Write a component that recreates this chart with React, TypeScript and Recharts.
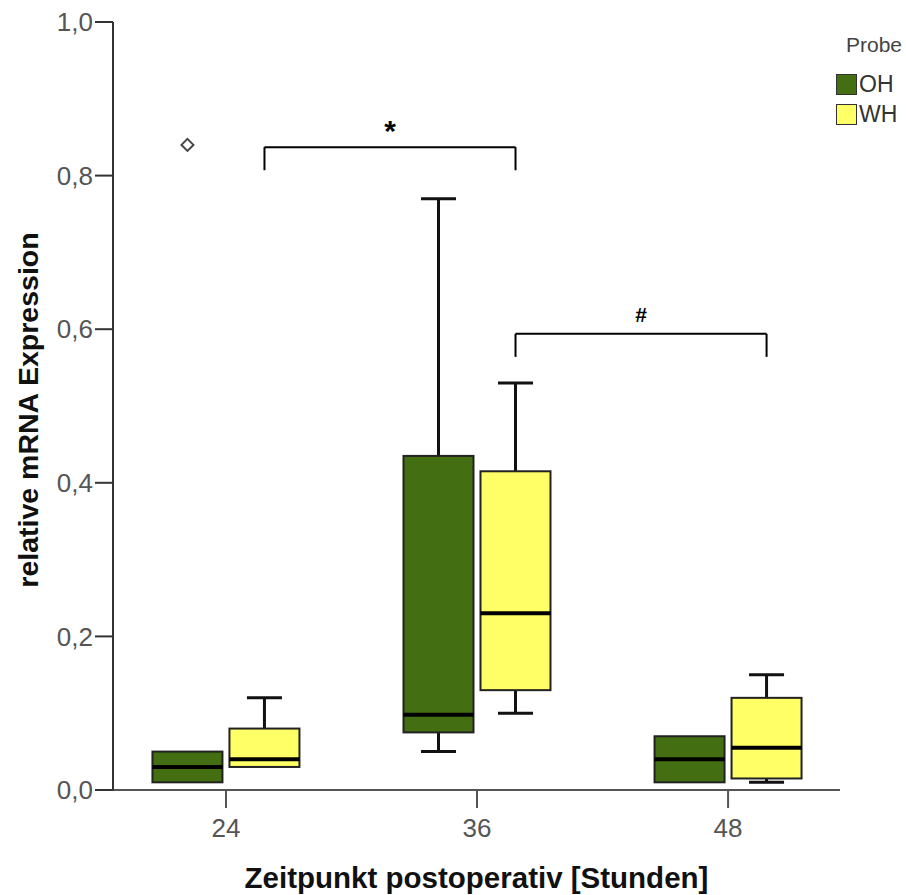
import { ComposedChart, Bar, XAxis, YAxis, ReferenceLine, Legend, Label } from "recharts";

const FONT = "'Liberation Sans', Arial, sans-serif";
const OH_COLOR = "#436f12";
const WH_COLOR = "#ffff66";

// time points (hours post-op)
const HOURS = [24, 36, 48];

// box plot summaries, one value per time point
const OH_MIN = [0.01, 0.05, 0.01];
const OH_Q1 = [0.01, 0.075, 0.01];
const OH_MEDIAN = [0.03, 0.098, 0.04];
const OH_Q3 = [0.05, 0.435, 0.07];
const OH_MAX = [0.05, 0.77, 0.07];
const OH_OUTLIERS = [[0.84], [], []];

const WH_MIN = [0.03, 0.1, 0.01];
const WH_Q1 = [0.03, 0.13, 0.015];
const WH_MEDIAN = [0.04, 0.23, 0.055];
const WH_Q3 = [0.08, 0.415, 0.12];
const WH_MAX = [0.12, 0.53, 0.15];
const WH_OUTLIERS = [[], [], []];

const Y_TICKS = [0, 0.2, 0.4, 0.6, 0.8, 1.0];

// significance brackets (between WH boxes)
const BRACKET_FROM = [24, 36];
const BRACKET_TO = [36, 48];
const BRACKET_Y = [0.837, 0.594];
const BRACKET_LEG = [0.807, 0.564];
const BRACKET_MARK = ["*", "#"];

const CHART_W = 906;
const CHART_H = 895;
const MARGIN = { top: 22, right: 66, bottom: 0, left: 0 };
const Y_AXIS_W = 113;
const PLOT_W = CHART_W - MARGIN.left - MARGIN.right - Y_AXIS_W;
const X_DOMAIN: [number, number] = [18.6, 53.35];
const BAR_SIZE = 70;
const BAR_GAP = 7;
// horizontal shift of the WH box centre from the tick, in hours
const WH_SHIFT = ((BAR_SIZE + BAR_GAP) / 2) * ((X_DOMAIN[1] - X_DOMAIN[0]) / PLOT_W);

const rows = HOURS.map((hour, i) => ({
  hour,
  oh: [OH_MIN[i], OH_MAX[i]],
  wh: [WH_MIN[i], WH_MAX[i]],
  ohStats: { min: OH_MIN[i], q1: OH_Q1[i], median: OH_MEDIAN[i], q3: OH_Q3[i], max: OH_MAX[i], outliers: OH_OUTLIERS[i] },
  whStats: { min: WH_MIN[i], q1: WH_Q1[i], median: WH_MEDIAN[i], q3: WH_Q3[i], max: WH_MAX[i], outliers: WH_OUTLIERS[i] },
}));

function BoxShape(props: any) {
  const { x, y, width, height, fill, stats } = props;
  if (!stats || height == null) return null;
  const top = Math.min(y, y + height);
  const bottom = Math.max(y, y + height);
  const span = stats.max - stats.min || 1;
  const toPx = (v: number) => bottom - ((v - stats.min) / span) * (bottom - top);
  const cx = x + width / 2;
  const cap = width / 4;
  const q1 = toPx(stats.q1);
  const q3 = toPx(stats.q3);
  const med = toPx(stats.median);
  const hi = toPx(stats.max);
  const lo = toPx(stats.min);
  return (
    <g>
      {stats.max > stats.q3 && (
        <g stroke="#111" strokeWidth={3}>
          <line x1={cx} x2={cx} y1={q3} y2={hi} />
          <line x1={cx - cap} x2={cx + cap} y1={hi} y2={hi} />
        </g>
      )}
      {stats.min < stats.q1 && (
        <g stroke="#111" strokeWidth={3}>
          <line x1={cx} x2={cx} y1={q1} y2={lo} />
          <line x1={cx - cap} x2={cx + cap} y1={lo} y2={lo} />
        </g>
      )}
      <rect x={x} y={q3} width={width} height={q1 - q3} fill={fill} stroke="#222" strokeWidth={2} />
      <line x1={x} x2={x + width} y1={med} y2={med} stroke="#000" strokeWidth={4} />
      {stats.outliers.map((v: number, k: number) => {
        const py = toPx(v);
        return (
          <path
            key={k}
            d={`M${cx},${py - 6} L${cx + 6},${py} L${cx},${py + 6} L${cx - 6},${py} Z`}
            fill="#fff"
            stroke="#444"
            strokeWidth={2}
          />
        );
      })}
    </g>
  );
}

function LegendBox({ payload }: any) {
  return (
    <div style={{ fontFamily: FONT }}>
      <div style={{ fontSize: 21, color: "#444", textAlign: "right", marginBottom: 12 }}>Probe</div>
      {(payload || []).map((item: any) => (
        <div key={item.value} style={{ display: "flex", alignItems: "center", height: 30 }}>
          <span
            style={{
              display: "inline-block",
              width: 19,
              height: 19,
              background: item.color,
              border: "1.5px solid #333",
            }}
          />
          <span style={{ fontSize: 23, color: "#333", marginLeft: 2 }}>{item.value}</span>
        </div>
      ))}
    </div>
  );
}

export default function App() {
  return (
    <div style={{ position: "absolute", left: 0, top: 0, width: CHART_W, height: CHART_H, background: "#fff" }}>
      <ComposedChart
        width={CHART_W}
        height={CHART_H}
        data={rows}
        margin={MARGIN}
        barSize={BAR_SIZE}
        barGap={BAR_GAP}
      >
        <XAxis
          type="number"
          dataKey="hour"
          domain={X_DOMAIN}
          ticks={HOURS}
          allowDataOverflow
          height={CHART_H - MARGIN.top - 768 - MARGIN.bottom}
          tickSize={18}
          tickMargin={11}
          tick={{ fontSize: 26, fill: "#555", fontFamily: FONT }}
          tickLine={{ stroke: "#555", strokeWidth: 2 }}
          axisLine={{ stroke: "#555", strokeWidth: 2 }}
        >
          <Label
            value="Zeitpunkt postoperativ [Stunden]"
            position="insideBottom"
            offset={7}
            style={{ fontSize: 29.5, fontWeight: "bold", fill: "#111", fontFamily: FONT }}
          />
        </XAxis>
        <YAxis
          type="number"
          domain={[0, 1]}
          ticks={Y_TICKS}
          width={Y_AXIS_W}
          tickSize={18}
          tickMargin={2}
          tickFormatter={(v: number) => v.toFixed(1).replace(".", ",")}
          tick={{ fontSize: 26, fill: "#555", fontFamily: FONT }}
          tickLine={{ stroke: "#333", strokeWidth: 2 }}
          axisLine={{ stroke: "#333", strokeWidth: 2 }}
        >
          <Label
            value="relative mRNA Expression"
            angle={-90}
            position="center"
            dx={-29}
            dy={4}
            style={{ fontSize: 28.5, fontWeight: "bold", fill: "#111", fontFamily: FONT }}
          />
        </YAxis>

        <Bar
          name="OH"
          dataKey="oh"
          fill={OH_COLOR}
          isAnimationActive={false}
          shape={(p: any) => <BoxShape {...p} stats={p.payload.ohStats} />}
        />
        <Bar
          name="WH"
          dataKey="wh"
          fill={WH_COLOR}
          isAnimationActive={false}
          shape={(p: any) => <BoxShape {...p} stats={p.payload.whStats} />}
        />

        {BRACKET_FROM.map((from, i) => {
          const x1 = from + WH_SHIFT;
          const x2 = BRACKET_TO[i] + WH_SHIFT;
          return [
            <ReferenceLine
              key={`h${i}`}
              segment={[{ x: x1, y: BRACKET_Y[i] }, { x: x2, y: BRACKET_Y[i] }]}
              stroke="#000"
              strokeWidth={2}
              label={{
                value: BRACKET_MARK[i],
                position: "top",
                offset: i === 0 ? 6 : 12,
                fontSize: i === 0 ? 30 : 21,
                fontWeight: "bold",
                fill: "#000",
                fontFamily: FONT,
              }}
            />,
            <ReferenceLine
              key={`l${i}`}
              segment={[{ x: x1, y: BRACKET_Y[i] }, { x: x1, y: BRACKET_LEG[i] }]}
              stroke="#000"
              strokeWidth={2}
            />,
            <ReferenceLine
              key={`r${i}`}
              segment={[{ x: x2, y: BRACKET_Y[i] }, { x: x2, y: BRACKET_LEG[i] }]}
              stroke="#000"
              strokeWidth={2}
            />,
          ];
        })}

        <Legend
          layout="horizontal"
          verticalAlign="middle"
          align="center"
          wrapperStyle={{ left: 836, top: 33, width: 66 }}
          content={<LegendBox />}
        />
      </ComposedChart>
    </div>
  );
}
